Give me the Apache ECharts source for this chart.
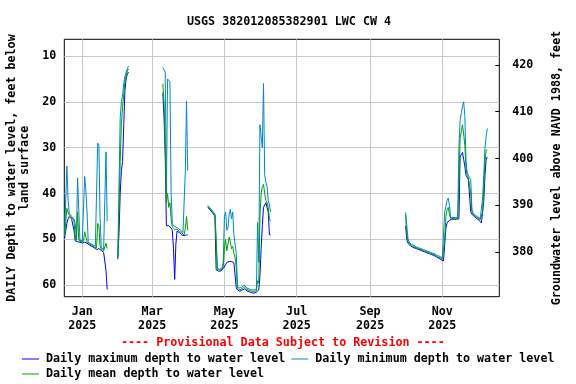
<!DOCTYPE html>
<html><head><meta charset="utf-8">
<script src="https://cdn.jsdelivr.net/npm/echarts@6/dist/echarts.min.js"></script>
<style>html,body{margin:0;padding:0;background:#fff}#c{width:576px;height:384px}</style>
</head><body><div id="c"></div>
<script>
const titleText = 'USGS 382012085382901 LWC CW 4';
const noteText = '---- Provisional Data Subject to Revision ----';
const nameMax = 'Daily maximum depth to water level';
const nameMin = 'Daily minimum depth to water level';
const nameMean = 'Daily mean depth to water level';
const leftAxisName = 'DAILY Depth to water level, feet below\nland surface';
const rightAxisName = 'Groundwater level above NAVD 1988, feet';

const monthTickDates = ['2025-01-01','2025-03-01','2025-05-01','2025-07-01','2025-09-01','2025-11-01'];
const monthTickLabels = ['Jan\n2025','Mar\n2025','May\n2025','Jul\n2025','Sep\n2025','Nov\n2025'];
const depthTicks = [10,20,30,40,50,60];
const elevTicks = [380,390,400,410,420];

// Segment 1
const seg1Start = '2024-12-17';
const seg1Max = [49.7,49.5,46.5,45.5,45.0,45.3,45.6,45.8,48.0,50.3,50.4,50.5,50.6,50.6,50.7,
  50.8,50.7,50.6,50.5,50.8,51.0,51.2,51.3,51.5,51.7,51.8,52.0,52.2,52.3,52.0,52.2,52.4,52.6,52.8,53.0,56.7,60.9];
const seg1Min = [49.0,48.8,34.0,41.5,44.3,44.6,45.0,45.2,45.5,46.5,50.0,36.6,43.4,50.2,50.3,
  50.3,50.2,36.3,39.2,44.0,50.6,50.8,50.9,51.0,51.2,51.3,51.5,51.7,29.0,29.5,45.0,51.8,52.0,52.2,52.4,30.9,46.0];
const seg1Mean = [49.3,49.2,43.2,44.2,44.6,45.0,45.3,45.5,46.0,49.5,50.2,44.0,50.2,50.4,50.5,
  50.5,50.4,48.3,48.0,50.5,50.8,51.0,51.1,51.2,51.4,51.6,51.8,51.9,46.5,47.0,51.5,52.1,52.3,52.5,52.7,50.8,52.0];

// Segment 2
const seg2Start = '2025-01-31';
const seg2Max = [54.3,48.5,40.0,35.0,33.0,25.0,17.5,15.0,14.0,13.5];
const seg2Min = [53.5,38.5,23.5,20.0,18.5,16.0,14.5,13.5,12.8,12.2];
const seg2Mean = [54.0,44.0,33.0,25.0,21.0,18.5,15.5,14.3,13.3,12.8];

// Segment 3
const seg3Start = '2025-03-10';
const seg3Max = [18.0,23.5,31.6,47.0,47.3,47.0,47.3,47.5,48.0,52.0,58.7,51.0,48.2,48.3,48.5,48.8,49.0,49.2,49.2,49.0,49.0,49.0];
const seg3Min = [12.5,12.5,13.5,40.0,15.0,15.1,15.6,40.0,46.5,47.0,47.2,47.3,47.4,47.6,47.8,48.0,48.3,48.5,48.7,35.0,19.8,35.0];
const seg3Mean = [16.0,20.0,30.0,42.0,40.0,43.0,42.0,45.5,47.3,47.6,47.8,47.8,47.8,48.0,48.2,48.4,48.6,48.9,49.0,47.5,45.0,48.0];

// Segment 4
const seg4Start = '2025-04-17';
const seg4Max = [43.0,43.3,43.6,43.9,44.2,44.5,44.9,
  56.6,56.8,56.9,57.0,56.9,56.7,56.3,
  55.9,55.5,55.0,55.0,54.8,55.0,54.8,55.0,55.1,55.3,
  60.5,61.0,61.2,61.3,61.1,61.0,61.0,60.8,61.0,61.2,
  61.3,61.4,61.5,61.6,61.6,61.7,61.5,61.5,61.6,61.0,
  58.0,52.0,47.0,43.0,42.5,42.0,42.2,44.0,49.0,49.0];
const seg4Min = [42.6,42.9,43.2,43.5,43.8,44.1,44.4,
  44.8,56.3,56.4,56.5,56.4,56.2,55.0,
  45.0,44.0,48.0,47.5,44.5,43.4,45.5,44.0,49.0,51.0,
  53.0,60.3,60.5,60.6,60.4,60.3,60.1,60.0,60.3,60.6,
  60.7,60.8,60.9,61.0,61.0,61.0,60.9,60.8,46.3,55.0,
  25.0,25.0,30.0,16.0,36.0,37.5,38.5,41.5,42.5,44.0];
const seg4Mean = [42.8,43.1,43.4,43.7,44.0,44.3,44.7,
  50.0,56.6,56.7,56.7,56.6,56.5,55.8,
  52.0,50.0,52.5,51.0,49.5,50.5,52.0,51.5,53.0,54.0,
  56.0,60.6,60.9,61.0,60.8,60.7,60.5,60.4,60.6,60.9,
  61.0,61.1,61.2,61.3,61.3,61.3,61.2,61.2,59.0,59.5,
  45.0,40.0,38.5,38.0,40.0,41.5,42.0,43.0,45.5,46.0];

// Segment 5
const seg5Start = '2025-10-01';
const seg5Max = [47.0,50.0,50.8,51.2,51.4,51.6,51.7,51.8,51.9,52.0,
  52.1,52.2,52.3,52.4,52.5,52.6,52.7,52.8,52.9,53.0,
  53.1,53.2,53.3,53.4,53.5,53.7,53.8,54.0,54.1,54.2,
  54.4,54.5,54.7,54.8,47.5,46.4,46.0,45.8,45.6,45.6,
  45.6,45.6,45.6,45.6,45.6,45.5,32.0,31.5,31.0,32.5,
  34.0,36.0,36.5,37.0,37.2,44.0,44.5,44.8,45.0,45.2,
  45.4,45.6,45.8,46.0,46.4,46.5,41.5,36.0,32.5,32.0];
const seg5Min = [44.1,47.0,49.8,50.6,50.9,51.1,51.2,51.3,51.5,51.6,
  51.7,51.8,51.9,52.0,52.1,52.2,52.3,52.4,52.5,52.6,
  52.7,52.8,52.9,53.0,53.1,53.2,53.3,53.5,53.6,53.7,
  53.9,54.0,54.1,44.0,42.8,41.5,41.0,42.5,45.2,45.2,
  45.2,45.2,45.2,45.2,45.2,30.0,24.0,22.5,21.0,20.0,
  23.0,33.0,35.5,36.0,36.5,37.0,43.6,44.2,44.5,44.7,
  44.9,45.1,45.3,45.5,45.7,41.0,36.0,30.0,27.5,25.8];
const seg5Mean = [44.7,49.0,50.4,50.9,51.1,51.3,51.5,51.6,51.7,51.8,
  51.9,52.0,52.1,52.2,52.3,52.4,52.5,52.6,52.7,52.8,
  52.9,53.0,53.1,53.2,53.3,53.4,53.6,53.7,53.8,54.0,
  54.1,54.3,54.4,50.0,45.0,43.5,43.0,44.5,45.4,45.4,
  45.4,45.4,45.4,45.4,45.4,38.0,28.0,26.5,25.0,27.0,
  29.5,34.5,36.0,36.5,36.8,40.0,44.0,44.5,44.7,45.0,
  45.1,45.3,45.5,45.7,46.0,44.0,38.5,33.0,30.5,30.5];

const segStarts = [seg1Start, seg2Start, seg3Start, seg4Start, seg5Start];
const segMax = [seg1Max, seg2Max, seg3Max, seg4Max, seg5Max];
const segMin = [seg1Min, seg2Min, seg3Min, seg4Min, seg5Min];
const segMean = [seg1Mean, seg2Mean, seg3Mean, seg4Mean, seg5Mean];

const origin = Date.UTC(2025, 0, 1);
function dayOf(s) {
  const p = s.split('-').map(Number);
  return (Date.UTC(p[0], p[1] - 1, p[2]) - origin) / 86400000;
}
function build(segs) {
  const out = [];
  segs.forEach((vals, i) => {
    const d0 = dayOf(segStarts[i]);
    vals.forEach((v, k) => out.push([d0 + k, v]));
    out.push([d0 + vals.length - 0.5, null]);
  });
  return out;
}
const tickDays = monthTickDates.map(dayOf);

const font = {fontFamily: 'DejaVu Sans Mono', fontWeight: 'bold', fontSize: 11.7, color: '#000'};
const chart = echarts.init(document.getElementById('c'), null, {renderer: 'canvas'});
chart.setOption({
  animation: false,
  backgroundColor: '#fff',
  title: {text: titleText, left: 182, top: 11, textStyle: Object.assign({}, font)},
  grid: {left: 64.3, right: 76.7, top: 39.3, bottom: 87.3, containLabel: false, outerBoundsMode: 'none',
    show: true, borderColor: '#000', borderWidth: 1, backgroundColor: 'transparent'},
  xAxis: {
    type: 'value', min: -15.2, max: 352.1,
    axisLine: {show: false},
    axisTick: {show: false, customValues: tickDays},
    axisLabel: Object.assign({customValues: tickDays, margin: 8, lineHeight: 14,
      formatter: v => { const i = tickDays.indexOf(v); return i >= 0 ? monthTickLabels[i] : ''; }}, font),
    splitLine: {show: true, lineStyle: {color: '#c8c8c8', width: 1}}
  },
  yAxis: [{
    type: 'value', inverse: true, min: 6.36, max: 62.48, position: 'left',
    name: leftAxisName, nameLocation: 'middle', nameRotate: 90, nameGap: 33,
    nameTextStyle: Object.assign({lineHeight: 13, align: 'center'}, font),
    axisLine: {show: false},
    axisTick: {show: false, customValues: depthTicks},
    axisLabel: Object.assign({customValues: depthTicks, margin: 8}, font),
    splitLine: {show: true, lineStyle: {color: '#c8c8c8', width: 1}}
  }, {
    type: 'value', min: 370.53, max: 425.45, position: 'right',
    name: rightAxisName, nameLocation: 'middle', nameRotate: 90, nameGap: 52,
    nameTextStyle: Object.assign({}, font),
    axisLine: {show: false},
    axisTick: {show: true, inside: true, length: 4, customValues: elevTicks, lineStyle: {color: '#000'}},
    axisLabel: Object.assign({customValues: elevTicks, margin: 13}, font),
    splitLine: {show: false}
  }],
  legend: [{
    data: [nameMax, nameMin], left: 17, top: 348, itemWidth: 17, itemHeight: 1, icon: 'rect', itemGap: 6,
    textStyle: Object.assign({padding: [0, 0, 0, 2]}, font)
  }, {
    data: [nameMean], left: 17, top: 363, itemWidth: 17, itemHeight: 1, icon: 'rect',
    textStyle: Object.assign({padding: [0, 0, 0, 2]}, font)
  }],
  graphic: [{
    type: 'text', left: 121, top: 337,
    style: {text: noteText, fill: '#ff0000', font: 'bold 11.7px "DejaVu Sans Mono"'}
  }],
  series: [
    {name: nameMax, type: 'line', data: build(segMax), showSymbol: false, symbol: 'none', connectNulls: false,
     lineStyle: {color: '#0000ff', width: 1}, itemStyle: {color: '#0000ff'}},
    {name: nameMin, type: 'line', data: build(segMin), showSymbol: false, symbol: 'none', connectNulls: false,
     lineStyle: {color: '#0088cc', width: 1}, itemStyle: {color: '#0088cc'}},
    {name: nameMean, type: 'line', data: build(segMean), showSymbol: false, symbol: 'none', connectNulls: false,
     lineStyle: {color: '#00a000', width: 1}, itemStyle: {color: '#00a000'}}
  ]
});
</script></body></html>
